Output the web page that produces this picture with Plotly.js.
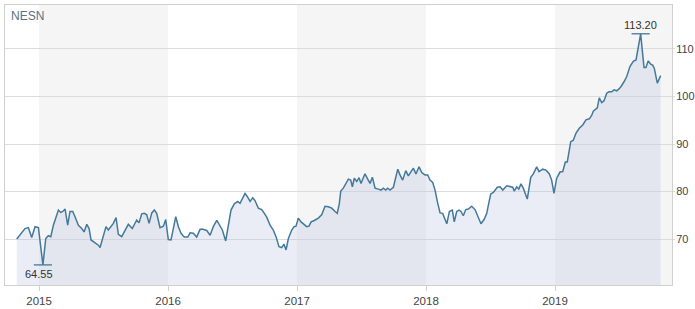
<!DOCTYPE html>
<html>
<head>
<meta charset="utf-8">
<script src="https://cdn.plot.ly/plotly-3.0.1.min.js"></script>
<style>
  html, body { margin: 0; padding: 0; background: #fff; }
  #chart { width: 695px; height: 309px; }
</style>
</head>
<body>
<div id="chart"></div>
<script>
// Time in decimal years
const dates = [
  2014.827, 2014.853, 2014.891, 2014.917, 2014.943, 2014.969, 2014.995, 2015.030, 2015.052, 2015.072,
  2015.091, 2015.111, 2015.132, 2015.150, 2015.168, 2015.184, 2015.202, 2015.222, 2015.240, 2015.261,
  2015.279, 2015.305, 2015.331, 2015.349, 2015.370, 2015.388, 2015.403, 2015.421, 2015.442, 2015.460,
  2015.473, 2015.494, 2015.519, 2015.537, 2015.558, 2015.576, 2015.597, 2015.615, 2015.641, 2015.667,
  2015.692, 2015.723, 2015.757, 2015.775, 2015.796, 2015.816, 2015.835, 2015.853, 2015.874, 2015.894,
  2015.912, 2015.938, 2015.964, 2015.982, 2016.002, 2016.023, 2016.041, 2016.060, 2016.080, 2016.101,
  2016.126, 2016.153, 2016.171, 2016.196, 2016.222, 2016.248, 2016.264, 2016.281, 2016.300, 2016.326,
  2016.351, 2016.378, 2016.398, 2016.421, 2016.447, 2016.467, 2016.488, 2016.514, 2016.540, 2016.558,
  2016.597, 2016.615, 2016.636, 2016.657, 2016.674, 2016.700, 2016.726, 2016.744, 2016.765, 2016.791,
  2016.816, 2016.837, 2016.860, 2016.881, 2016.899, 2016.915, 2016.933, 2016.959, 2016.977, 2016.992,
  2017.010, 2017.031, 2017.054, 2017.075, 2017.093, 2017.109, 2017.134, 2017.165, 2017.191, 2017.217,
  2017.243, 2017.269, 2017.295, 2017.312, 2017.328, 2017.339, 2017.359, 2017.380, 2017.398, 2017.416,
  2017.429, 2017.444, 2017.463, 2017.481, 2017.496, 2017.512, 2017.527, 2017.548, 2017.566, 2017.584,
  2017.605, 2017.630, 2017.651, 2017.669, 2017.688, 2017.703, 2017.721, 2017.747, 2017.765, 2017.781,
  2017.798, 2017.819, 2017.843, 2017.863, 2017.884, 2017.902, 2017.922, 2017.946, 2017.967, 2017.992,
  2018.013, 2018.031, 2018.052, 2018.070, 2018.091, 2018.109, 2018.129, 2018.161, 2018.181, 2018.204,
  2018.219, 2018.238, 2018.256, 2018.271, 2018.289, 2018.308, 2018.328, 2018.354, 2018.380, 2018.405,
  2018.426, 2018.450, 2018.471, 2018.486, 2018.502, 2018.522, 2018.553, 2018.574, 2018.595, 2018.626,
  2018.651, 2018.672, 2018.684, 2018.703, 2018.719, 2018.736, 2018.754, 2018.770, 2018.785, 2018.812,
  2018.832, 2018.858, 2018.876, 2018.905, 2018.930, 2018.956, 2018.974, 2018.992, 2019.013, 2019.039,
  2019.060, 2019.080, 2019.095, 2019.122, 2019.142, 2019.163, 2019.188, 2019.215, 2019.240, 2019.266,
  2019.284, 2019.297, 2019.312, 2019.328, 2019.343, 2019.362, 2019.380, 2019.401, 2019.419, 2019.440,
  2019.457, 2019.478, 2019.496, 2019.512, 2019.535, 2019.556, 2019.581, 2019.607, 2019.628, 2019.643,
  2019.664, 2019.690, 2019.705, 2019.723, 2019.742, 2019.757, 2019.770, 2019.793, 2019.819
];

// NESN share price (CHF)
const prices = [
  70.0, 70.8, 72.2, 72.4, 70.3, 72.6, 72.4, 64.55, 70.1, 70.7,
  70.5, 72.9, 74.7, 76.1, 75.6, 75.8, 76.3, 72.9, 75.8, 75.8,
  74.7, 72.9, 72.2, 71.5, 73.1, 72.2, 69.8, 69.4, 69.1, 68.7,
  68.2, 70.1, 72.6, 71.9, 72.6, 73.3, 74.5, 71.0, 70.5, 71.9,
  73.1, 72.2, 74.0, 73.4, 75.3, 75.4, 75.1, 73.3, 75.5, 76.1,
  75.4, 72.4, 72.7, 74.1, 69.9, 69.8, 72.3, 74.7, 72.6, 71.2,
  70.4, 70.4, 71.3, 71.2, 70.4, 72.0, 72.1, 72.0, 71.8, 70.8,
  72.6, 73.9, 72.9, 71.9, 69.6, 72.6, 76.1, 77.4, 77.9, 77.5,
  79.6, 78.9, 77.9, 78.7, 78.1, 76.5, 76.2, 75.5, 74.6, 72.9,
  71.9, 70.5, 68.4, 68.2, 68.9, 67.7, 70.1, 71.9, 72.6, 72.7,
  74.4, 73.6, 73.1, 72.6, 72.7, 73.6, 73.9, 74.4, 75.1, 76.9,
  76.8, 76.5, 75.8, 75.4, 77.5, 80.1, 80.7, 81.7, 82.6, 82.4,
  81.0, 82.8, 82.1, 82.9, 81.7, 82.8, 83.7, 82.6, 81.7, 83.0,
  80.7, 80.5, 80.3, 80.7, 80.3, 80.7, 80.3, 80.9, 82.8, 84.7,
  83.5, 82.4, 84.4, 83.3, 84.2, 84.9, 83.7, 85.2, 84.0, 83.5,
  83.5, 82.4, 81.9, 80.3, 77.5, 75.5, 75.4, 73.2, 75.8, 76.1,
  73.6, 75.8, 76.1, 75.8, 74.9, 76.2, 76.3, 76.9, 76.2, 74.7,
  73.2, 74.1, 75.4, 77.5, 79.5, 79.8, 80.9, 81.0, 80.3, 81.2,
  81.0, 80.9, 80.1, 81.0, 80.5, 81.6, 80.7, 79.5, 78.4, 83.0,
  83.7, 85.2, 84.2, 84.7, 84.5, 83.7, 82.4, 79.6, 82.8, 84.1,
  84.2, 86.2, 86.2, 90.5, 90.8, 92.3, 93.3, 94.0, 95.1, 95.3,
  96.0, 96.9, 97.2, 97.6, 99.7, 98.7, 99.1, 100.7, 101.0, 101.0,
  101.4, 101.2, 101.6, 102.1, 103.1, 104.2, 106.3, 107.4, 107.7, 109.8,
  113.2, 106.1, 106.1, 107.5, 106.8, 106.6, 105.9, 102.8, 104.4
];

const seriesName = "NESN";
const yearTicks = [2015, 2016, 2017, 2018, 2019];
const yearLabels = ["2015", "2016", "2017", "2018", "2019"];
const shadedYears = [2015, 2017, 2019];
const yTicks = [70, 80, 90, 100, 110];

const xRange = [2014.736, 2019.907];
const yRange = [60.32, 119.26];

let iMax = 0, iMin = 0;
prices.forEach((v, i) => {
  if (v > prices[iMax]) iMax = i;
  if (v < prices[iMin]) iMin = i;
});

const shapes = shadedYears.map(y => ({
  type: "rect", layer: "below", xref: "x", yref: "paper",
  x0: y, x1: Math.min(y + 1, xRange[1]), y0: 0, y1: 1,
  fillcolor: "#f5f5f5", line: { width: 0 }
}));

const traces = [
  {
    x: dates, y: prices, type: "scatter", mode: "lines",
    line: { color: "#44799a", width: 1.5 },
    fill: "tozeroy", fillcolor: "rgba(190,200,225,0.33)",
    hoverinfo: "x+y", showlegend: false
  },
  {
    x: [dates[iMax], dates[iMin]], y: [prices[iMax], prices[iMin]],
    type: "scatter", mode: "markers",
    marker: { symbol: "line-ew-open", size: 13, color: "#44799a", line: { width: 1.3, color: "#44799a" } },
    showlegend: false, hoverinfo: "skip"
  }
];

const layout = {
  width: 695, height: 309,
  margin: { l: 5, r: 23, t: 5, b: 24 },
  paper_bgcolor: "#fff", plot_bgcolor: "#fff",
  font: { family: "Liberation Sans, Arial, sans-serif", size: 11.5, color: "#444" },
  showlegend: false,
  xaxis: {
    type: "linear", range: xRange,
    tickvals: yearTicks, ticktext: yearLabels,
    showgrid: false, zeroline: false,
    ticks: "outside", ticklen: 5, tickcolor: "#d0d0d0",
    showline: true, linecolor: "#d0d0d0", linewidth: 1, mirror: true,
    tickfont: { size: 11.5, color: "#444" }
  },
  yaxis: {
    side: "right", range: yRange,
    tickvals: yTicks, ticktext: yTicks.map(String),
    showgrid: true, gridcolor: "#dcdcdc", gridwidth: 1, zeroline: false,
    ticks: "outside", ticklen: 2, tickcolor: "#dcdcdc",
    ticklabelstandoff: -1,
    showline: true, linecolor: "#d0d0d0", linewidth: 1, mirror: true,
    tickfont: { size: 11, color: "#444" }
  },
  shapes: shapes,
  annotations: [
    {
      xref: "paper", yref: "paper", x: 0, y: 1, xanchor: "left", yanchor: "top",
      xshift: 4, yshift: -2, text: seriesName, showarrow: false,
      font: { size: 12, color: "#5b7083" }
    },
    {
      x: dates[iMax], y: prices[iMax], xanchor: "center", yanchor: "bottom",
      yshift: 1, text: prices[iMax].toFixed(2), showarrow: false,
      font: { size: 11, color: "#333" }
    },
    {
      x: dates[iMin], y: prices[iMin], xanchor: "center", yanchor: "top",
      xshift: -4, yshift: -1, text: prices[iMin].toFixed(2), showarrow: false,
      font: { size: 11, color: "#333" }
    }
  ]
};

Plotly.newPlot("chart", traces, layout, { displayModeBar: false, staticPlot: true });
</script>
</body>
</html>
